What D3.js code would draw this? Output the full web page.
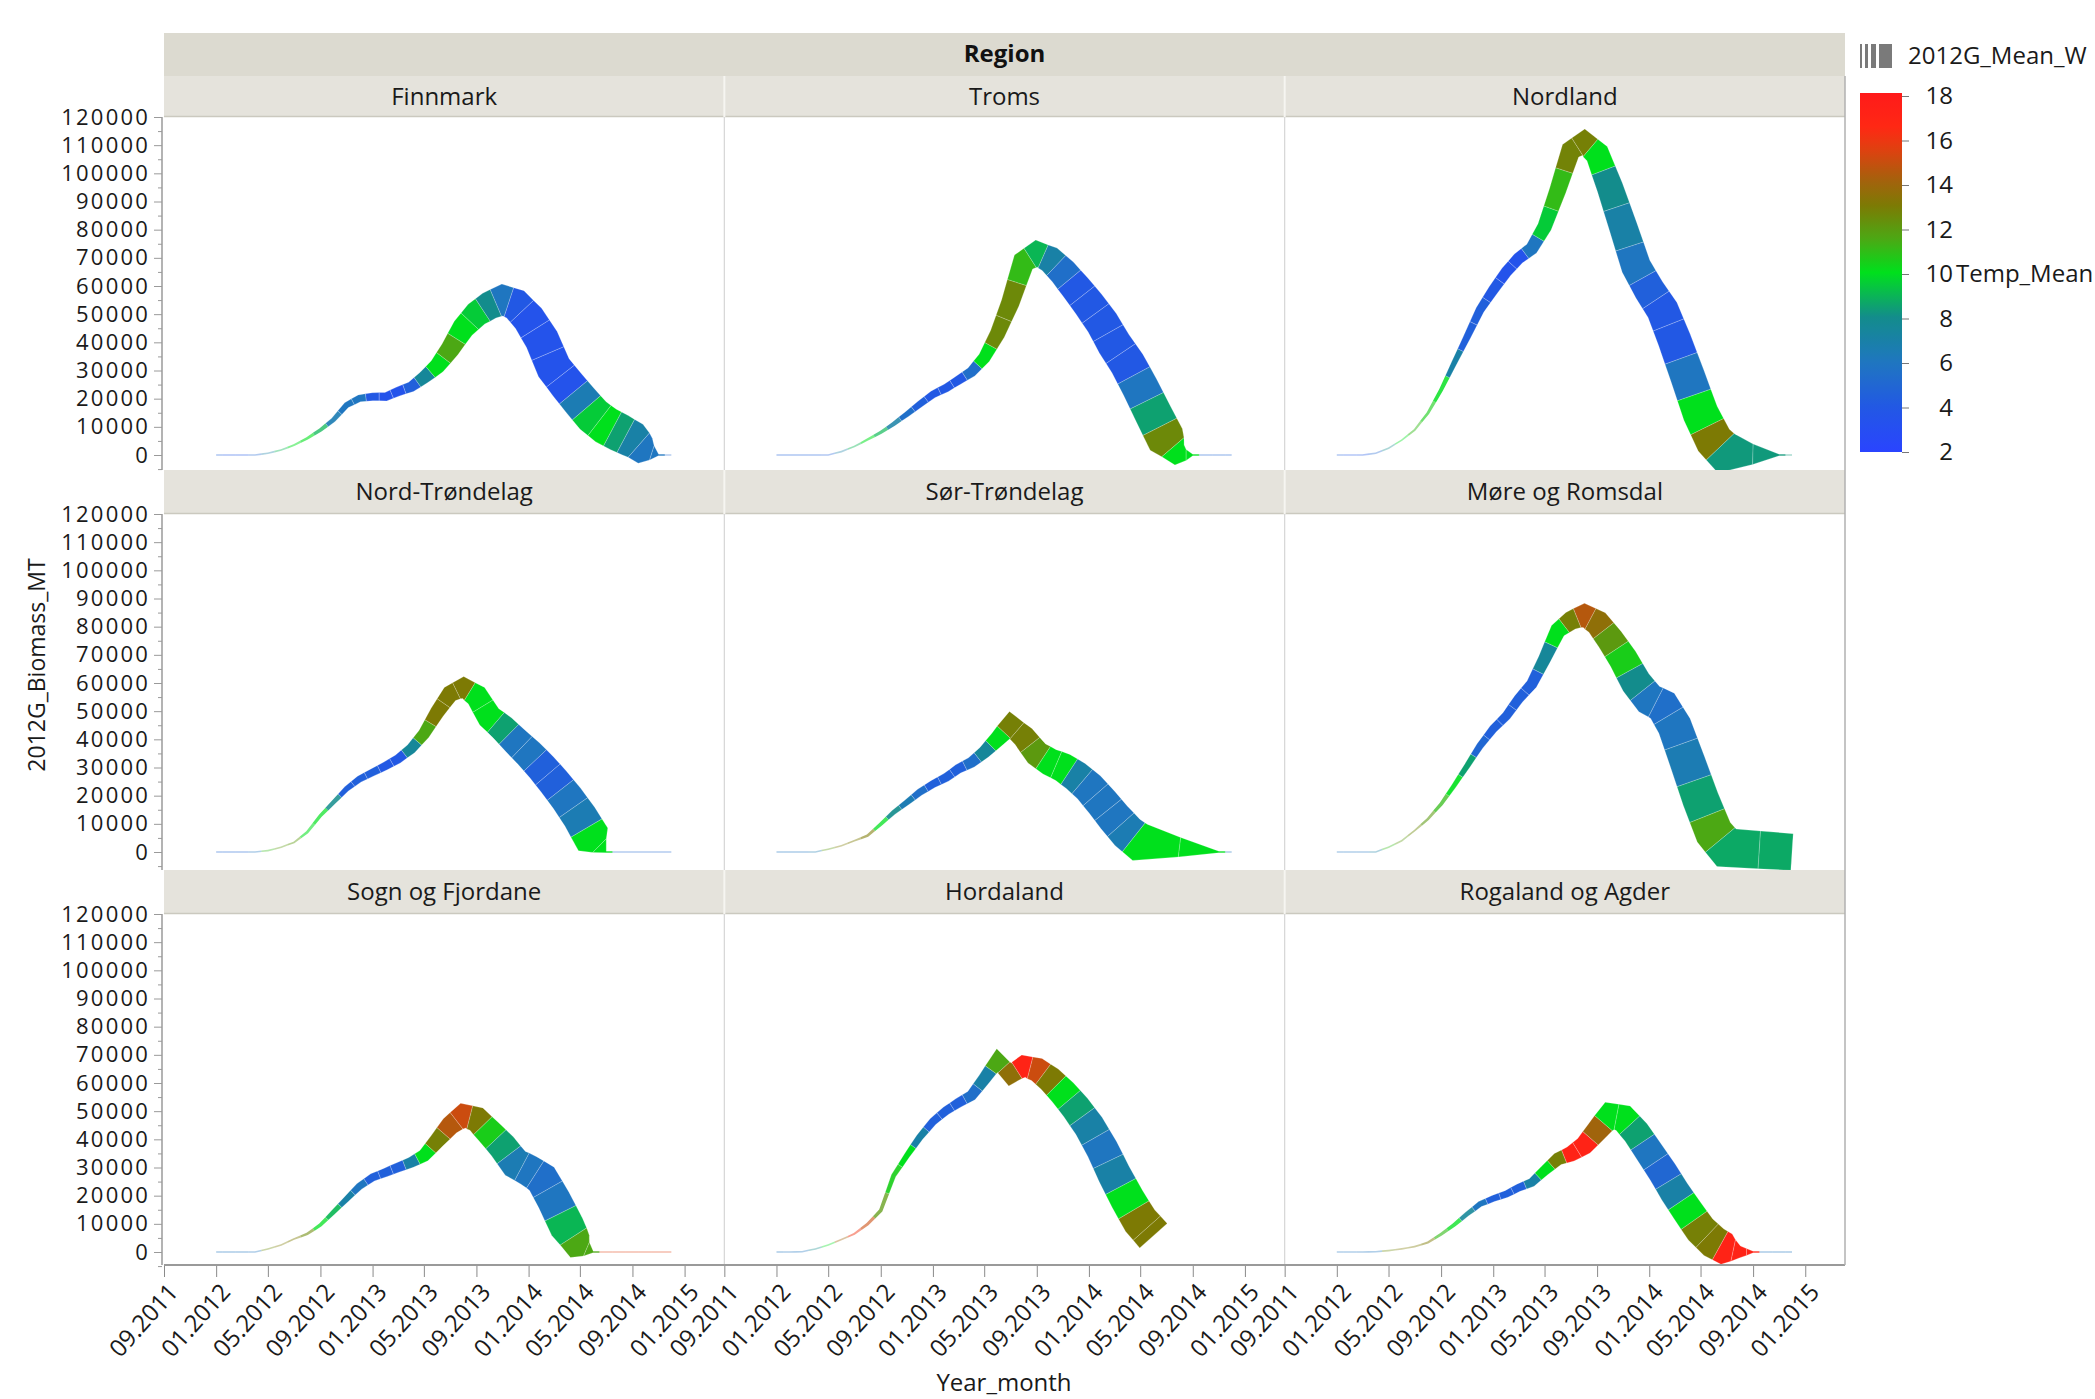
<!DOCTYPE html>
<html>
<head>
<meta charset="utf-8">
<script src="https://cdn.jsdelivr.net/npm/d3@7"></script>
<style>
  body { margin: 0; background: #fff; }
  svg { display: block; font-family: "Open Sans", "Noto Sans", sans-serif; }
</style>
</head>
<body>
<svg id="chart" width="2095" height="1399"></svg>
<script>
// ---- data ----
var regions = ["Finnmark", "Troms", "Nordland", "Nord-Trøndelag", "Sør-Trøndelag",
               "Møre og Romsdal", "Sogn og Fjordane", "Hordaland", "Rogaland og Agder"];

var monthLabels = ["01.2012","02.2012","03.2012","04.2012","05.2012","06.2012","07.2012","08.2012",
                   "09.2012","10.2012","11.2012","12.2012","01.2013","02.2013","03.2013","04.2013",
                   "05.2013","06.2013","07.2013","08.2013","09.2013","10.2013","11.2013","12.2013",
                   "01.2014","02.2014","03.2014","04.2014","05.2014","06.2014","07.2014","08.2014",
                   "09.2014","10.2014","11.2014","12.2014"];

var xTickLabels = ["09.2011","01.2012","05.2012","09.2012","01.2013","05.2013",
                   "09.2013","01.2014","05.2014","09.2014","01.2015"];
var yTickValues = [0,10000,20000,30000,40000,50000,60000,70000,80000,90000,100000,110000,120000];
var tempTickValues = [2,4,6,8,10,12,14,16,18];

// 2012G_Biomass_MT (tonnes), null = no record
var biomassFinnmark = [0,0,0,0, 600,1800,3500,5900, 8900,12400,17700,20100, 20700,20700,22500,24200, 27500,31500,37500,45000, 50000,53000,55000,53500, 48500,41000,31000,25000, 19500,14000,10500,8000, 5500,1500,0,0];
var biomassTroms = [0,0,0,0, 0,1200,3000,5500, 8000,11000,14500,18000, 21500,23800,26500,29500, 34500,43000,54000,68500, 71500,69500,65000,59500, 53500,47000,39500,32500, 24000,14500,5500,0, 0,0,0,0];
var biomassNordland = [0,0,0,600, 2400,5300,8900,14800, 23100,32500,42000,51500, 58600,65100,69800,73300, 81000,94000,108000,111000, 107000,95000,81000,67000, 58600,51500,40800,27800, 14800,5300,500,null, null,null,0,0];
var biomassNordTrondelag = [0,0,0,0, 500,1700,3400,7000, 12900,17600,22400,25900, 28300,30600,33000,36600, 41900,49600,56100,58400, 55500,48000,44000,39500, 35000,30000,25000,19000, 12500,4500,0,0, 0,0,0,0];
var biomassSorTrondelag = [0,0,0,0, 1000,2200,4000,5800, 9900,14100,17600,21200, 24100,26500,29500,31800, 35400,40100,45000,41000, 35000,32000,30000,27000, 23000,17600,12300,7000, 3400,null,null,null, null,null,0,0];
var biomassMore = [0,0,0,0, 1700,4000,7600,11700, 17000,23500,30600,37700, 43700,48400,54300,59600, 68500,78600,82100,84000, 81500,75600,68500,60200, 54300,51900,44800,31800, 18800,7000,1500,null, null,null,null,0];
var biomassSogn = [0,0,0,0, 1100,2500,4600,6400, 9600,14100,18800,23300, 26500,28300,30000,31800, 34200,39500,44800,48400, 47200,42500,37500,31500, 29000,26000,18500,9000, 2000,0,0,0, 0,0,0,0];
var biomassHordaland = [0,0,100,1100, 2500,4400,6400,9900, 14700,27100,34200,40700, 46300,50200,52900,55500, 61400,68000,63000,66000, 64800,61400,56700,51300, 44800,36600,27700,18800, 11100,5800,null,null, null,null,null,null];
var biomassRogaland = [0,0,0,100, 500,1100,1900,3400, 6300,9600,13500,17000, 19000,20600,22800,24700, 28900,33000,34800,37700, 43100,48400,47500,42500, 35500,28500,21500,14500, 8000,3500,1000,0, 0,0,0,0];

// 2012G_Mean_W (kg) -> ribbon width
var weightFinnmark = [0.05,0.05,0.05,0.08, 0.12,0.18,0.25,0.35, 0.45,0.6,0.75,0.9, 1.0,1.05,1.15,1.3, 1.6,2.0,2.4,2.8, 3.2,3.5,3.75,3.9, 4.1,4.3,4.4,4.5, 4.6,4.7,4.8,4.8, 4.6,3.5,0,0];
var weightTroms = [0.05,0.05,0.05,0.05, 0.08,0.12,0.2,0.3, 0.4,0.55,0.7,0.85, 0.95,1.05,1.15,1.3, 1.55,1.9,2.3,2.7, 3.0,3.3,3.6,3.85, 4.05,4.2,4.35,4.5, 4.6,4.7,4.8,2.5, 0,0,0,0];
var weightNordland = [0.05,0.05,0.05,0.08, 0.12,0.18,0.25,0.35, 0.5,0.7,0.9,1.1, 1.3,1.4,1.5,1.6, 1.8,2.1,2.4,2.7, 3.0,3.3,3.55,3.75, 3.9,4.05,4.2,4.35, 4.5,4.7,4.9,null, null,null,0,0];
var weightNordTrondelag = [0.05,0.05,0.05,0.05, 0.1,0.15,0.22,0.32, 0.42,0.55,0.7,0.85, 0.95,1.05,1.15,1.3, 1.5,1.8,2.1,2.4, 2.8,3.1,3.4,3.6, 3.8,3.95,4.1,4.25, 4.4,4.6,0,0, 0,0,0,0];
var weightSorTrondelag = [0.05,0.05,0.05,0.05, 0.1,0.15,0.22,0.32, 0.45,0.6,0.75,0.9, 1.0,1.1,1.2,1.35, 1.6,2.0,2.5,2.9, 3.2,3.45,3.7,3.9, 4.05,4.2,4.35,4.5, 4.7,null,null,null, null,null,0,0];
var weightMore = [0.05,0.05,0.05,0.06, 0.1,0.15,0.22,0.32, 0.45,0.6,0.75,0.9, 1.05,1.15,1.25,1.4, 1.6,1.95,2.35,2.75, 3.1,3.4,3.65,3.85, 4.0,4.15,4.3,4.45, 4.6,4.75,4.85,null, null,null,null,4.6];
var weightSogn = [0.05,0.05,0.05,0.05, 0.1,0.15,0.22,0.32, 0.45,0.6,0.75,0.9, 1.0,1.1,1.2,1.35, 1.6,1.95,2.4,2.85, 3.1,3.35,3.6,3.8, 3.95,4.1,4.25,4.4, 3.5,0,0,0, 0,0,0,0];
var weightHordaland = [0.05,0.05,0.05,0.08, 0.12,0.18,0.25,0.35, 0.45,0.6,0.75,0.9, 1.0,1.1,1.2,1.35, 1.55,1.85,2.2,2.6, 3.0,3.3,3.55,3.75, 3.9,4.05,4.2,4.35, 4.5,4.6,null,null, null,null,null,null];
var weightRogaland = [0.05,0.05,0.05,0.05, 0.08,0.12,0.18,0.26, 0.36,0.48,0.6,0.72, 0.82,0.9,0.98,1.1, 1.3,1.6,1.95,2.35, 2.75,3.1,3.35,3.5, 3.6,3.7,3.8,3.9, 4.0,4.1,4.0,1.5, 0,0,0,0];

// Temp_Mean (deg C) -> colour
var tempFinnmark = [4.5,4,4,5, 7,9,10,10, 9,6.5,6,6, 4,3.5,3.5,4.5, 7.5,10,11.5,10, 9.5,8,6,4, 3.5,3.5,3.5,3.5, 6.5,9.5,10,8.5, 7,6,5,5];
var tempTroms = [4.5,4.5,4.5,4.5, 4.5,7,9,10, 9,7,5.5,4.5, 4,4,4,5.5, 10,12.5,12.5,11, 9,7,5.5,4, 4,4,4,4, 6,8.5,12.5,10, 5,5,5,5];
var tempNordland = [4.5,4,4,5, 8,10,11,10.5, 10,7,4.5,4.5, 4,3.5,3.5,6, 9.5,11,12.7,12.8, 10,8,7,6, 4.5,4,4,6, 10,13,8.3,null, null,null,8.3,8.3];
var tempNordTrondelag = [5,5,5,6, 11,12,12,10, 10,8,4.5,4.5, 4.5,4,4,7.5, 11.5,13,13,13, 10,10,8.5,6, 6,4.5,4.5,6, 6.5,10,5,5, 5,5,5,5];
var tempSorTrondelag = [6,6,6,6.5, 12,13,13,13, 10,8,6.5,5.5, 4.5,4.5,4.5,5.5, 7.5,10,12.8,12.8, 12,10,10,7, 6,6,6,6.5, 10,null,null,null, null,null,10,6];
var tempMore = [6,6,6,7, 11,12,12.5,12, 11,10,8.5,5, 4.5,4.5,4.5,4.5, 7.5,10,12.8,14.5, 13.5,12,10.5,8, 6,5.5,6,6.5, 8.5,11.5,8.7,null, null,null,null,8.7];
var tempSogn = [6,6,6,6, 12.5,13,13,12.5, 10,9,7,6, 4.5,4.5,4.5,7, 10,12.8,14.5,15, 13,10.5,8.5,6.5, 6,5.5,6,9, 11.5,15.5,15.5,15.5, 15.5,15.5,15.5,15.5];
var tempHordaland = [6,6,6,8, 10,14,16,15, 12,10.5,10,7, 4.5,4.5,4.5,5.5, 7,11.5,13.5,17, 15,13,10,8.5, 7,6,7,10, 13,13,null,null, null,null,null,null];
var tempRogaland = [6,6,6,6, 12.5,13,13,13, 11,10,7.5,6, 4.5,4.5,4.5,7, 10,12.8,17,17, 14,10,10,8.5, 6,5,7,10, 12.8,13,17,17, 6,6,6,6];

var biomassByRegion = [biomassFinnmark, biomassTroms, biomassNordland, biomassNordTrondelag, biomassSorTrondelag,
                       biomassMore, biomassSogn, biomassHordaland, biomassRogaland];
var weightByRegion = [weightFinnmark, weightTroms, weightNordland, weightNordTrondelag, weightSorTrondelag,
                      weightMore, weightSogn, weightHordaland, weightRogaland];
var tempByRegion = [tempFinnmark, tempTroms, tempNordland, tempNordTrondelag, tempSorTrondelag,
                    tempMore, tempSogn, tempHordaland, tempRogaland];

// ---- layout ----
var svg = d3.select("#chart");
var plotLeft = 164, plotRight = 1845;
var colW = (plotRight - plotLeft) / 3;
var rowTops = [117, 514, 914], rowBottoms = [470, 870, 1265], stripTops = [76, 470, 870];
var zeroOffset = 338;       // px from panel top to the 0 line
var fontSize = 24;

var parseMonth = d3.timeParse("%m.%Y");
var monthDates = monthLabels.map(parseMonth);
var xTickDates = xTickLabels.map(parseMonth);
var xDomain = [parseMonth("09.2011"), new Date(2015, 3, 4)];

var color = d3.scaleLinear()
    .domain([2, 4, 6, 8, 10, 11.5, 13, 14, 15.5, 16.5, 18])
    .range(["#2a44ff", "#2258e4", "#1f76c0", "#138c8c", "#00e01c", "#4ca814",
            "#7d7a04", "#a0640c", "#e04010", "#ff2814", "#ff1a1a"])
    .clamp(true);

var widthScale = d3.scaleLinear().domain([0, 1]).range([0, 8]); // kg -> px

svg.append("rect").attr("width", 2095).attr("height", 1399).attr("fill", "#fff");

// region header
svg.append("rect").attr("x", plotLeft).attr("y", 33).attr("width", plotRight - plotLeft).attr("height", 43)
    .attr("fill", "#dcdad0");
svg.append("text").attr("x", (plotLeft + plotRight) / 2).attr("y", 54).attr("dy", "0.35em")
    .attr("text-anchor", "middle").attr("font-size", fontSize).attr("font-weight", "bold")
    .attr("fill", "#111").text("Region");

var defs = svg.append("defs");

// build ribbon pieces: one polygon per point, from the midpoint before to the midpoint after
function ribbonPieces(pts) {
    var n = pts.length, segN = [];
    for (var i = 0; i < n - 1; i++) {
        var dx = pts[i + 1].x - pts[i].x, dy = pts[i + 1].y - pts[i].y;
        var len = Math.sqrt(dx * dx + dy * dy) || 1;
        segN.push([-dy / len, dx / len]);
    }
    var joins = pts.map(function(p, i) {
        var a = segN[i - 1] || segN[i], b = segN[i] || segN[i - 1];
        if (!a) return [0, -1];
        var mx = a[0] + b[0], my = a[1] + b[1];
        var ml = Math.sqrt(mx * mx + my * my);
        if (ml < 1e-6) return a;
        mx /= ml; my /= ml;
        var k = 1 / Math.max(mx * a[0] + my * a[1], 0.55);
        return [mx * k, my * k];
    });
    return pts.map(function(p, i) {
        var left = [], right = [], hmax = p.h, t = p.t;
        // a thin end point next to a thick one takes the thick one's colour (tapering tip)
        [pts[i - 1], pts[i + 1]].forEach(function(q) {
            if (q && p.h < 1.5 && q.h > 3 && q.h > hmax) { hmax = q.h; t = q.t; }
        });
        hmax = p.h;
        if (i > 0) {
            var q = pts[i - 1], s = segN[i - 1], h = (p.h + q.h) / 2;
            var cx = (p.x + q.x) / 2, cy = (p.y + q.y) / 2;
            left.push([cx + s[0] * h, cy + s[1] * h]);
            right.push([cx - s[0] * h, cy - s[1] * h]);
            hmax = Math.max(hmax, h);
        }
        left.push([p.x + joins[i][0] * p.h, p.y + joins[i][1] * p.h]);
        right.push([p.x - joins[i][0] * p.h, p.y - joins[i][1] * p.h]);
        if (i < n - 1) {
            var q2 = pts[i + 1], s2 = segN[i], h2 = (p.h + q2.h) / 2;
            var cx2 = (p.x + q2.x) / 2, cy2 = (p.y + q2.y) / 2;
            left.push([cx2 + s2[0] * h2, cy2 + s2[1] * h2]);
            right.push([cx2 - s2[0] * h2, cy2 - s2[1] * h2]);
            hmax = Math.max(hmax, h2);
        }
        return { poly: left.concat(right.reverse()), t: t, w: hmax * 2 };
    });
}

regions.forEach(function(name, i) {
    var r = Math.floor(i / 3), c = i % 3;
    var x0 = plotLeft + c * colW;
    var top = rowTops[r], bottom = rowBottoms[r];
    var x = d3.scaleTime().domain(xDomain).range([x0, x0 + colW]);
    var y = d3.scaleLinear().domain([0, 120000]).range([top + zeroOffset, top]);

    // strip
    svg.append("rect").attr("x", x0).attr("y", stripTops[r]).attr("width", colW).attr("height", top - stripTops[r])
        .attr("fill", "#e5e3dc");
    svg.append("line").attr("x1", x0).attr("x2", x0 + colW).attr("y1", top - 0.5).attr("y2", top - 0.5)
        .attr("stroke", "#cbc9bf").attr("stroke-width", 1.5);
    if (c > 0) {
        svg.append("line").attr("x1", x0).attr("x2", x0).attr("y1", stripTops[r]).attr("y2", top)
            .attr("stroke", "#f6f5f1").attr("stroke-width", 2);
        svg.append("line").attr("x1", x0).attr("x2", x0).attr("y1", top).attr("y2", bottom)
            .attr("stroke", "#d6d6d6").attr("stroke-width", 1.2);
    }
    svg.append("text").attr("x", x0 + colW / 2).attr("y", (stripTops[r] + top) / 2).attr("dy", "0.35em")
        .attr("text-anchor", "middle").attr("font-size", fontSize).attr("fill", "#1a1a1a").text(name);

    // ribbon
    defs.append("clipPath").attr("id", "clip" + i).append("rect")
        .attr("x", x0).attr("y", top).attr("width", colW).attr("height", bottom - top);

    var bio = biomassByRegion[i], wt = weightByRegion[i], tp = tempByRegion[i];
    var pts = [];
    monthDates.forEach(function(d, k) {
        if (bio[k] == null) return;
        pts.push({ x: x(d), y: y(bio[k]), h: Math.max(widthScale(wt[k]), 1.6) / 2, t: tp[k] });
    });

    svg.append("g").attr("clip-path", "url(#clip" + i + ")")
        .selectAll("path").data(ribbonPieces(pts)).enter().append("path")
        .attr("d", function(d) { return "M" + d.poly.join("L") + "Z"; })
        .attr("fill", function(d) { return color(d.t); })
        .attr("fill-opacity", function(d) { return Math.max(0.35, Math.min(1, 0.35 + (d.w - 1.6) / 4.4 * 0.65)); })
        .attr("stroke", function(d) { return d.w > 5 ? "rgba(255,255,255,0.3)" : "none"; })
        .attr("stroke-width", 0.7);

    // y axis on the first column
    if (c === 0) {
        var minor = d3.range(-5000, 120001, 10000);
        svg.append("g").attr("transform", "translate(" + (plotLeft - 2) + ",0)")
            .call(d3.axisLeft(y).tickValues(minor).tickSize(4).tickFormat(""))
            .call(function(g) { g.select(".domain").remove(); g.selectAll("line").attr("stroke", "#9a9a9a"); });
        svg.append("g").attr("transform", "translate(" + (plotLeft - 2) + ",0)")
            .call(d3.axisLeft(y).tickValues(yTickValues).tickSize(8).tickPadding(4).tickFormat(d3.format("d")))
            .call(function(g) {
                g.select(".domain").remove();
                g.selectAll("line").attr("stroke", "#9a9a9a");
                g.selectAll("text").attr("font-size", 22).attr("font-family", "Open Sans, sans-serif")
                    .attr("fill", "#1a1a1a").attr("letter-spacing", "2.2px");
            });
        svg.append("line").attr("x1", plotLeft - 2).attr("x2", plotLeft - 2).attr("y1", top).attr("y2", bottom)
            .attr("stroke", "#9a9a9a").attr("stroke-width", 1.5);
    }

    // x axis on the bottom row
    if (r === 2) {
        var gx = svg.append("g").attr("transform", "translate(0," + bottom + ")")
            .call(d3.axisBottom(x).tickValues(xTickDates).tickSize(12).tickFormat(d3.timeFormat("%m.%Y")));
        gx.select(".domain").remove();
        gx.selectAll("line").attr("stroke", "#8a8a8a");
        gx.selectAll("text")
            .attr("font-size", fontSize).attr("font-family", "Open Sans, sans-serif").attr("fill", "#1a1a1a")
            .attr("text-anchor", "end").attr("dy", null).attr("y", null)
            .attr("transform", "translate(15,28) rotate(-48)");
    }
});

// frame lines
svg.append("line").attr("x1", plotLeft).attr("x2", plotRight).attr("y1", 1265).attr("y2", 1265)
    .attr("stroke", "#9a9a9a").attr("stroke-width", 2);
svg.append("line").attr("x1", plotRight).attr("x2", plotRight).attr("y1", 76).attr("y2", 1265)
    .attr("stroke", "#b0b0b0").attr("stroke-width", 1.5);

// axis titles
svg.append("text").attr("transform", "translate(37,665) rotate(-90)").attr("text-anchor", "middle")
    .attr("dy", "0.35em").attr("font-size", fontSize - 1).attr("fill", "#1a1a1a").text("2012G_Biomass_MT");
svg.append("text").attr("x", 1004).attr("y", 1391).attr("text-anchor", "middle")
    .attr("font-size", fontSize).attr("fill", "#1a1a1a").text("Year_month");

// ---- legend ----
var lg = svg.append("g");
[[1860, 2], [1865, 3], [1871, 5], [1879, 13]].forEach(function(b) {
    lg.append("rect").attr("x", b[0]).attr("y", 44).attr("width", b[1]).attr("height", 24).attr("fill", "#7a7a7a");
});
lg.append("text").attr("x", 1908).attr("y", 56).attr("dy", "0.35em").attr("font-size", fontSize)
    .attr("fill", "#1a1a1a").text("2012G_Mean_W");

var tY = d3.scaleLinear().domain([2, 18]).range([452, 96]);
var grad = defs.append("linearGradient").attr("id", "tempGrad")
    .attr("x1", 0).attr("y1", 1).attr("x2", 0).attr("y2", 0);
d3.range(2, 18.01, 0.5).forEach(function(t) {
    grad.append("stop").attr("offset", (t - 2) / 16).attr("stop-color", color(t));
});
lg.append("rect").attr("x", 1860).attr("y", tY(18) - 3).attr("width", 42).attr("height", tY(2) - tY(18) + 3)
    .attr("fill", "url(#tempGrad)");
lg.append("g").attr("transform", "translate(1902,0)")
    .call(d3.axisRight(tY).tickValues(tempTickValues).tickSize(7).tickPadding(0).tickFormat(""))
    .call(function(g) { g.select(".domain").remove(); g.selectAll("line").attr("stroke", "#777"); });
lg.selectAll("text.tt").data(tempTickValues).enter().append("text").attr("class", "tt")
    .attr("x", 1953).attr("y", function(d) { return tY(d); }).attr("dy", "0.35em")
    .attr("text-anchor", "end").attr("font-size", fontSize).attr("fill", "#1a1a1a").text(function(d) { return d; });
lg.append("text").attr("x", 1956).attr("y", tY(10)).attr("dy", "0.35em").attr("font-size", fontSize)
    .attr("fill", "#1a1a1a").text("Temp_Mean");
</script>
</body>
</html>
